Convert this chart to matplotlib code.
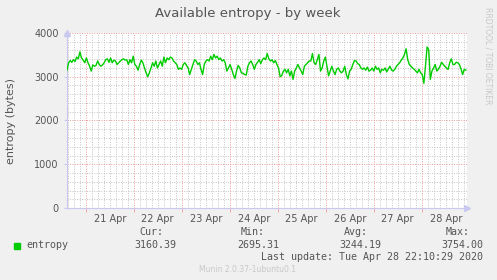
import numpy as np
import matplotlib as mpl
import matplotlib.pyplot as plt

mpl.use("Agg")

# entropy samples, roughly every 50 min from Apr 20 ~14:40 to Apr 28 ~22:00
entropy_week_1 = [
    3150, 3320, 3370, 3330, 3390, 3350, 3450, 3410, 3570, 3430, 3380, 3320,
    3430, 3320, 3240, 3130, 3270, 3240, 3260, 3360, 3280, 3240, 3270, 3320,
    3390, 3410, 3330, 3430, 3320, 3380, 3360, 3280, 3320, 3360, 3390, 3410,
    3380, 3390, 3280, 3390, 3320, 3470, 3280, 3240, 3150, 3280, 3380, 3320,
    3200, 3090, 3000, 3090, 3200, 3320, 3240, 3360, 3200, 3280, 3360, 3240,
    3450, 3320, 3430, 3390, 3450, 3430, 3360, 3320, 3280, 3170, 3200, 3170,
    3280, 3320, 3260, 3200, 3050, 3170, 3280, 3390, 3360, 3280, 3320, 3170,
    3050, 3280, 3360, 3390, 3360, 3470, 3390, 3510, 3430, 3470, 3390, 3430,
    3360, 3390, 3320, 3130, 3200, 3280, 3170, 3050, 2960, 3130, 3260, 3200,
    3090, 3080, 3050, 3040, 3240, 3320, 3360,
]
entropy_week_2 = [
    3280, 3170, 3280, 3330, 3390, 3300, 3390, 3430, 3390, 3530, 3410, 3360,
    3390, 3320, 3370, 3280, 3200, 3000, 3030, 3130, 3170, 3090, 3170, 3020,
    3130, 2940, 3130, 3200, 3280, 3200, 3130, 3050, 3240, 3280, 3320, 3360,
    3360, 3530, 3320, 3280, 3390, 3510, 3130, 3200, 3360, 3450, 3240, 3020,
    3130, 3240, 3130, 3050, 3170, 3200, 3130, 3090, 3130, 3240, 3050, 2950,
    3130, 3170, 3280, 3370, 3360, 3300, 3280, 3200, 3170, 3200, 3150, 3220,
    3130, 3150, 3200, 3130, 3240, 3170, 3200, 3090, 3170, 3150, 3200, 3110,
    3180, 3240, 3150, 3130, 3170, 3240, 3280, 3320, 3380, 3430, 3510, 3640,
    3390, 3280, 3240, 3200, 3170, 3130, 3090, 3170, 3090, 3050, 2850, 3240,
    3680, 3620, 2940, 3130, 3200, 3280, 3130, 3170, 3240, 3330, 3280, 3240,
    3200, 3170, 3320, 3410, 3280, 3280, 3330, 3320, 3280, 3180, 3050, 3170,
    3150,
]
# first and last sample, in days since 21 Apr 00:00
t_first, t_last = -0.39, 7.92
day_labels = ["21 Apr", "22 Apr", "23 Apr", "24 Apr",
              "25 Apr", "26 Apr", "27 Apr", "28 Apr"]
y_ticks = [0, 1000, 2000, 3000, 4000]
stats_names = ["Cur:", "Min:", "Avg:", "Max:"]
stats_values = ["3160.39", "2695.31", "3244.19", "3754.00"]

values = np.array(entropy_week_1 + entropy_week_2)
times = np.linspace(t_first, t_last, len(values))

text_col = "#555555"
minor_col = "#C4C4C4"
major_col = "#EE9A9A"
fig = plt.figure(figsize=(4.97, 2.80), dpi=100, facecolor="#F0F0F0")
ax = fig.add_axes([67 / 497, 72 / 280, 400 / 497, 175 / 280])
ax.set_facecolor("white")
ax.set_xlim(-0.39, 7.944)
ax.set_ylim(0, 4000)

# munin style grid: gray every 3h / 200, red every day / 1000
for t in np.arange(-0.375, 8.0, 0.125):
    if abs(t - round(t)) < 1e-6:
        ax.axvline(t, color=major_col, lw=0.7, ls=(0, (1, 1.5)), zorder=1)
    else:
        ax.axvline(t, color=minor_col, lw=0.7, ls=(0, (1, 1.5)), zorder=0)
for v in range(200, 4001, 200):
    if v % 1000 == 0:
        ax.axhline(v, color=major_col, lw=0.7, ls=(0, (1, 1.5)), zorder=1)
    else:
        ax.axhline(v, color=minor_col, lw=0.7, ls=(0, (1, 1.5)), zorder=0)

ax.plot(times, values, color="#00CC00", lw=1.0, zorder=3)

for side in ["top", "right"]:
    ax.spines[side].set_visible(False)
for side in ["left", "bottom"]:
    ax.spines[side].set_color("#C8C8F0")
    ax.spines[side].set_linewidth(0.8)
ax.plot([0], [1.0], marker="^", ms=4, color="#C8C8F0", transform=ax.transAxes, clip_on=False)
ax.plot([1.0], [0], marker=">", ms=4, color="#C8C8F0", transform=ax.transAxes, clip_on=False)

ax.set_xticks(np.arange(0.5, 8, 1.0), day_labels)
ax.set_xticks(np.arange(0, 8, 1.0), minor=True)
ax.tick_params(axis="x", which="major", length=0, pad=4, labelsize=7, labelcolor=text_col)
ax.tick_params(axis="x", which="minor", length=3, color=major_col, width=0.6)
ax.set_yticks(y_ticks, [str(v) for v in y_ticks])
ax.tick_params(axis="y", length=2, color="#C8C8F0", pad=4, labelsize=7, labelcolor=text_col)

fig.text(247.5 / 497, 1 - 14 / 280, "Available entropy - by week",
         ha="center", va="center", fontsize=9.5, color=text_col)
fig.text(11 / 497, 1 - 121 / 280, "entropy (bytes)", rotation=90,
         ha="center", va="center", fontsize=8, color=text_col)
fig.text(488 / 497, 1 - 56 / 280, "RRDTOOL / TOBI OETIKER", rotation=270,
         ha="center", va="center", fontsize=5.5, color="#C8C8C8")

# legend block
mono = "DejaVu Sans Mono"
fig.patches.append(mpl.patches.Rectangle((14 / 497, 1 - 248.5 / 280), 6 / 497, 6 / 280,
                                         transform=fig.transFigure, color="#00CC00"))
fig.text(26 / 497, 1 - 245 / 280, "entropy", family=mono, ha="left", va="center",
         fontsize=7.2, color=text_col)
label_right = [163, 265, 368, 470]
value_right = [176, 279, 381, 483]
for name, val, lr, vr in zip(stats_names, stats_values, label_right, value_right):
    fig.text(lr / 497, 1 - 232 / 280, name, family=mono, ha="right", va="center",
             fontsize=7.2, color=text_col)
    fig.text(vr / 497, 1 - 245 / 280, val, family=mono, ha="right", va="center",
             fontsize=7.2, color=text_col)
fig.text(483 / 497, 1 - 257 / 280, "Last update: Tue Apr 28 22:10:29 2020",
         family=mono, ha="right", va="center", fontsize=7.2, color=text_col)
fig.text(247.5 / 497, 1 - 269 / 280, "Munin 2.0.37-1ubuntu0.1",
         ha="center", va="center", fontsize=5.5, color="#C8C8C8")

fig.savefig("out.png", dpi=100, facecolor=fig.get_facecolor())
